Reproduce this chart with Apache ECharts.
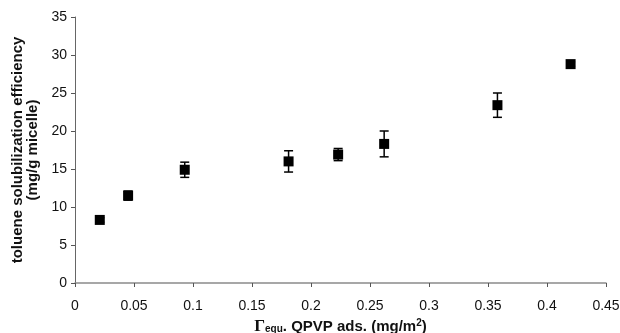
<!DOCTYPE html>
<html>
<head>
<meta charset="utf-8">
<script src="https://cdn.jsdelivr.net/npm/echarts@6/dist/echarts.min.js"></script>
<style>
  html, body { margin: 0; padding: 0; background: #fff; }
  #main { width: 620px; height: 333px; }
</style>
</head>
<body>
<div id="main"></div>
<script>
// Γequ QPVP adsorbed vs toluene solubilization efficiency
var gammaEqu = [0.021, 0.045, 0.093, 0.181, 0.223, 0.262, 0.358, 0.420];
var solubil = [8.3, 11.5, 14.9, 16.0, 16.9, 18.3, 23.4, 28.8];
var errBar = [0.3, 0.6, 1.0, 1.4, 0.8, 1.7, 1.6, 0.3];

var xTicks = [0, 0.05, 0.1, 0.15, 0.2, 0.25, 0.3, 0.35, 0.4, 0.45];

var points = [];
var errData = [];
for (var i = 0; i < gammaEqu.length; i++) {
    points.push([gammaEqu[i], solubil[i]]);
    errData.push([gammaEqu[i], solubil[i] - errBar[i], solubil[i] + errBar[i]]);
}

var font = 'Liberation Sans, Arial, sans-serif';

var chart = echarts.init(document.getElementById('main'));
chart.setOption({
    animation: false,
    grid: { left: 75, right: 14, top: 17, bottom: 50, outerBoundsMode: 'none' },
    xAxis: {
        type: 'value',
        min: 0,
        max: 0.45,
        interval: 0.05,
        splitLine: { show: false },
        axisLine: { lineStyle: { color: '#8a8a8a', width: 1.5 } },
        axisTick: { show: true, length: 4, lineStyle: { color: '#555' } },
        axisLabel: {
            color: '#111', fontSize: 14, fontFamily: font, margin: 16,
            formatter: function(v) {
                var idx = Math.round(v / 0.05);
                return String(xTicks[idx]);
            }
        },
        name: '{g|Γ}{sub|equ}{b|. QPVP ads. (mg/m}{sup|2}{b|)}',
        nameLocation: 'middle',
        nameGap: 30,
        nameTextStyle: {
            rich: {
                g: { fontFamily: 'Liberation Serif, Times New Roman, serif', fontSize: 17, fontWeight: 'bold', color: '#111', lineHeight: 16 },
                sub: { fontFamily: font, fontSize: 10, fontWeight: 'bold', color: '#111', lineHeight: 16, padding: [6, 0, 0, 0] },
                b: { fontFamily: font, fontSize: 15, fontWeight: 'bold', color: '#111', lineHeight: 16 },
                sup: { fontFamily: font, fontSize: 10, fontWeight: 'bold', color: '#111', lineHeight: 16, padding: [0, 0, 6, 0] }
            }
        }
    },
    yAxis: {
        type: 'value',
        min: 0,
        max: 35,
        interval: 5,
        splitLine: { show: false },
        axisLine: { show: true, lineStyle: { color: '#666', width: 1 } },
        axisTick: { show: true, length: 4, lineStyle: { color: '#555' } },
        axisLabel: { color: '#111', fontSize: 14, fontFamily: font, margin: 8 },
        name: 'toluene solubilization efficiency\n(mg/g micelle)',
        nameLocation: 'middle',
        nameGap: 29,
        nameTextStyle: {
            fontFamily: font, fontSize: 15, fontWeight: 'bold', color: '#111', lineHeight: 15
        }
    },
    series: [{
        type: 'custom',
        name: 'error',
        data: errData,
        z: 3,
        renderItem: function(params, api) {
            var x = api.value(0);
            var lo = api.coord([x, api.value(1)]);
            var hi = api.coord([x, api.value(2)]);
            var hw = 4.5;
            var st = { stroke: '#000', lineWidth: 1.5 };
            return {
                type: 'group',
                children: [
                    { type: 'line', shape: { x1: hi[0], y1: hi[1], x2: lo[0], y2: lo[1] }, style: st },
                    { type: 'line', shape: { x1: hi[0] - hw, y1: hi[1], x2: hi[0] + hw, y2: hi[1] }, style: st },
                    { type: 'line', shape: { x1: lo[0] - hw, y1: lo[1], x2: lo[0] + hw, y2: lo[1] }, style: st }
                ]
            };
        }
    }, {
        type: 'scatter',
        name: 'data',
        data: points,
        symbol: 'rect',
        symbolSize: 10,
        z: 4,
        itemStyle: { color: '#000', opacity: 1 }
    }]
});
</script>
</body>
</html>
